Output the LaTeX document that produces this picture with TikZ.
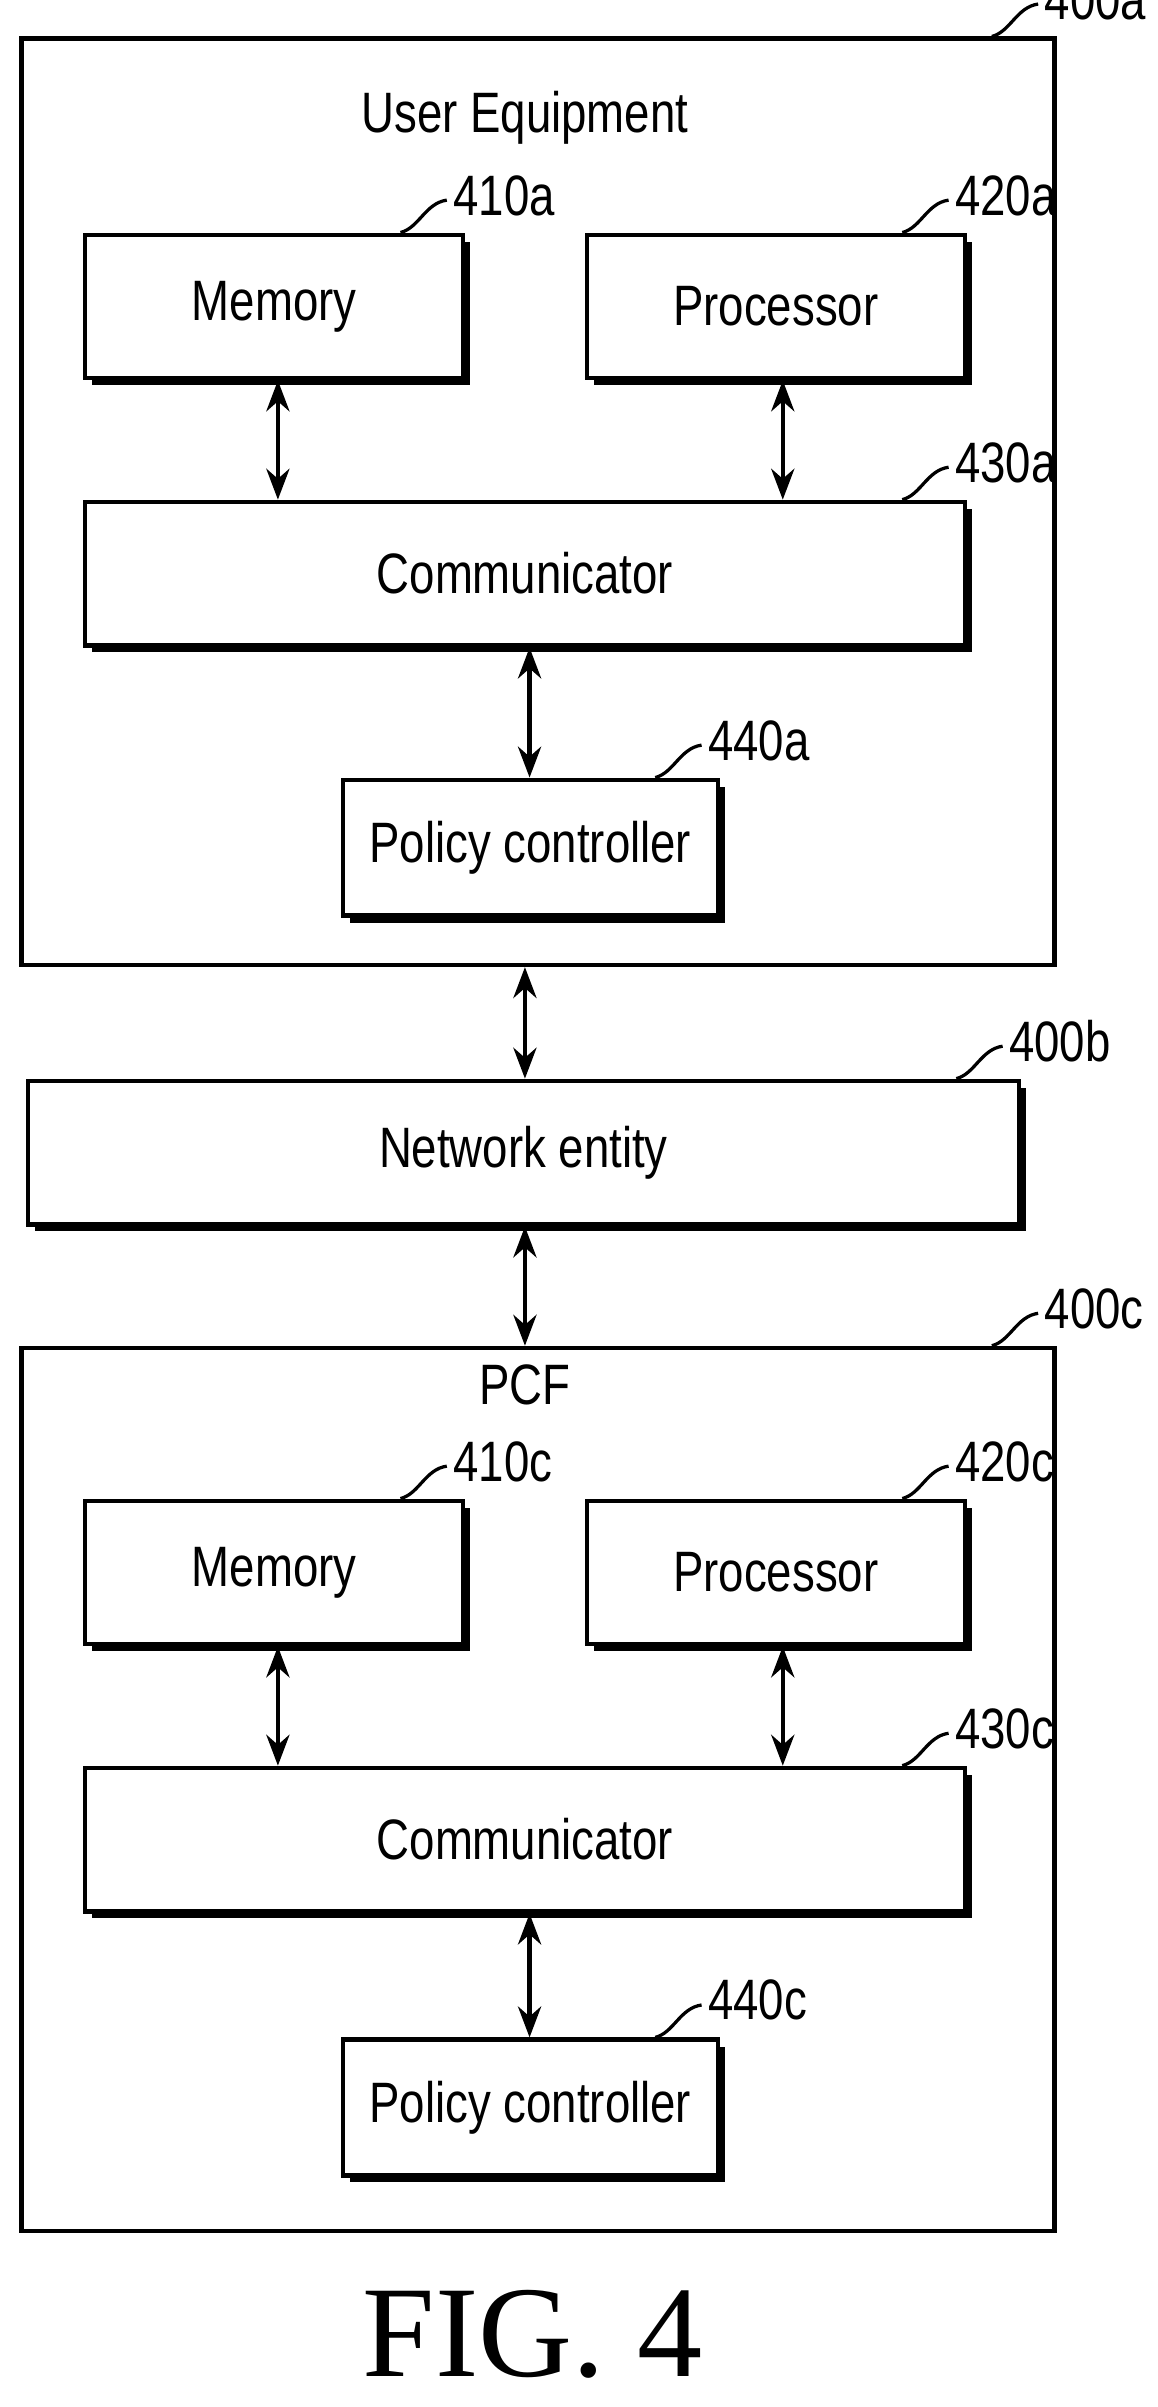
\documentclass[tikz,border=0pt]{standalone}
\usepackage{fontspec}
\setsansfont[FakeStretch=0.8]{Liberation Sans}
\setmainfont{Liberation Serif}
\usetikzlibrary{arrows.meta,shadows}

\tikzset{
  blk/.style={draw,fill=white,line width=0.8pt,inner sep=0pt,
    drop shadow={fill=black,opacity=1,shadow xshift=0.45mm,shadow yshift=-0.45mm},
    font=\sffamily\fontsize{10.5}{12}\selectfont},
  outer/.style={draw,line width=0.8pt,inner sep=0pt},
  ref/.style={anchor=west,inner sep=1pt,font=\sffamily\fontsize{10.5}{12}\selectfont},
  link/.style={{Stealth[length=2mm,width=1.5mm]}-{Stealth[length=2mm,width=1.5mm]},line width=0.8pt},
  lead/.style={line width=0.6pt}
}

\begin{document}
\begin{tikzpicture}[x=0.1mm,y=-0.1mm]
  \useasboundingbox (0,0) rectangle (750,1559);

  % User equipment
  \node[outer,minimum width=66.9mm,minimum height=60mm] (ue) at (348.5,325) {};
  \node[font=\sffamily\fontsize{10.5}{12}\selectfont] (uet) at (340,76) {User Equipment};
  \node[blk,minimum width=24.5mm,minimum height=9.3mm] (mema) at (177.5,198.5) {Memory};
  \node[blk,minimum width=24.5mm,minimum height=9.3mm] (proa) at (502.5,198.5) {Processor};
  \node[blk,minimum width=57mm,minimum height=9.3mm] (coma) at (340,371.5) {Communicator};
  \node[blk,minimum width=24.3mm,minimum height=8.8mm] (pola) at (343.5,549) {Policy controller};

  % Network entity
  \node[blk,minimum width=64.2mm,minimum height=9.3mm] (net) at (339,746.5) {Network entity};

  % PCF
  \node[outer,minimum width=66.9mm,minimum height=57.2mm] (pcf) at (348.5,1159) {};
  \node[font=\sffamily\fontsize{10.5}{12}\selectfont] (pcft) at (340,897) {PCF};
  \node[blk,minimum width=24.5mm,minimum height=9.3mm] (memc) at (177.5,1018.5) {Memory};
  \node[blk,minimum width=24.5mm,minimum height=9.3mm] (proc) at (502.5,1018.5) {Processor};
  \node[blk,minimum width=57mm,minimum height=9.3mm] (comc) at (340,1191.5) {Communicator};
  \node[blk,minimum width=24.3mm,minimum height=8.8mm] (polc) at (343.5,1365) {Policy controller};

  % Arrows
  \foreach \s in {a,c} {
    \draw[link] (mem\s.south -| 180,0) -- (com\s.north -| 180,0);
    \draw[link] (pro\s.south -| 507,0) -- (com\s.north -| 507,0);
    \draw[link] (com\s.south -| 343,0) -- (pol\s.north -| 343,0);
  }
  \draw[link] (ue.south -| 340,0) -- (net.north -| 340,0);
  \draw[link] (net.south -| 340,0) -- (pcf.north -| 340,0);

  % Reference numerals
  \foreach \n/\t in {ue/400a,mema/410a,proa/420a,coma/430a,pola/440a,
                     net/400b,pcf/400c,memc/410c,proc/420c,comc/430c,polc/440c} {
    \node[ref] (r\n) at ([xshift=-1.2mm,yshift=2.4mm]\n.north east) {\t};
    \draw[lead] ([xshift=-4.2mm]\n.north east) .. controls ([xshift=-3mm,yshift=0.3mm]\n.north east)
      and ([xshift=-2.6mm,yshift=1.9mm]\n.north east) .. ([xshift=-1.2mm,yshift=2.1mm]\n.north east);
  }

  % Caption
  \node[font=\rmfamily\fontsize{24}{28}\selectfont] (fig) at (345,1512) {FIG. 4};
\end{tikzpicture}
\end{document}
